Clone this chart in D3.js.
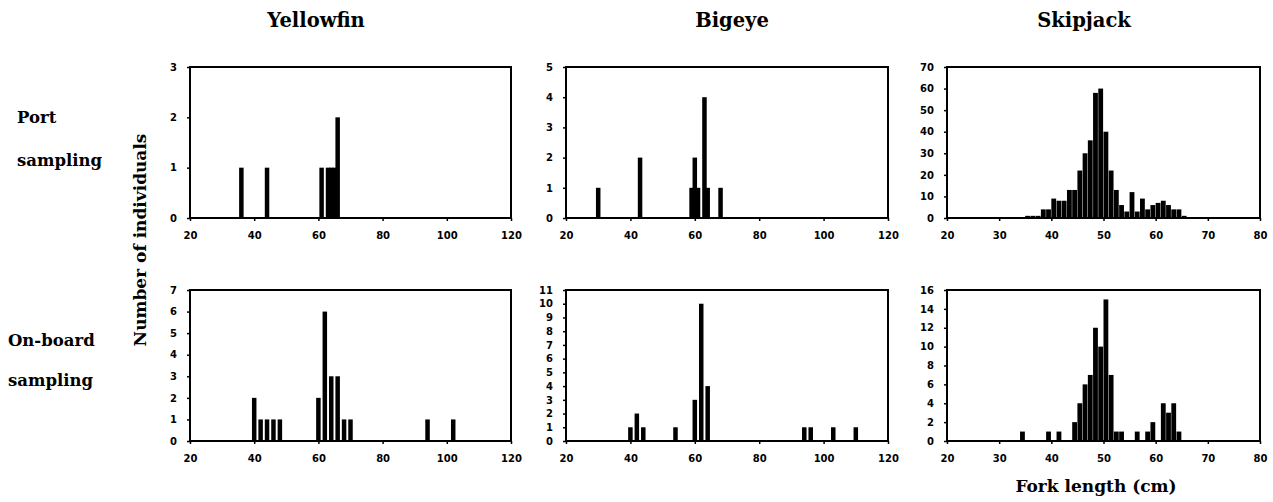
<!DOCTYPE html>
<html>
<head>
<meta charset="utf-8">
<script src="https://cdnjs.cloudflare.com/ajax/libs/d3/7.8.5/d3.min.js"></script>
<style>
	body { margin: 0; background: #fff; }
	.tick text { font-family: "DejaVu Sans", sans-serif; font-weight: bold; font-size: 10px; fill: #000; }
	.tick line { stroke: #000; stroke-width: 1.5; }
	.label { font-family: "DejaVu Serif", serif; font-weight: bold; fill: #000; }
</style>
</head>
<body>
<div id="main-view"></div>
<script>
var columnTitles = ["Yellowfin", "Bigeye", "Skipjack"];
var rowTitles = [["Port", "sampling"], ["On-board", "sampling"]];
var yTitle = "Number of individuals";
var xTitle = "Fork length (cm)";

// fork length (cm) and number of fish, one pair of arrays per panel
var yellowfinPortLengths = [36, 44, 61, 63, 64, 65, 66];
var yellowfinPortCounts = [1, 1, 1, 1, 1, 1, 2];
var bigeyePortLengths = [30, 43, 59, 60, 61, 63, 64, 68];
var bigeyePortCounts = [1, 2, 1, 2, 1, 4, 1, 1];
var skipjackPortLengths = [35, 36, 37, 38, 39, 40, 41, 42, 43, 44, 45, 46, 47, 48, 49, 50, 51, 52, 53, 54, 55, 56, 57, 58, 59, 60, 61, 62, 63, 64, 65];
var skipjackPortCounts = [1, 1, 1, 4, 4, 9, 8, 8, 13, 13, 22, 30, 36, 58, 60, 40, 22, 13, 6, 3, 12, 3, 9, 4, 6, 7, 8, 6, 4, 4, 1];

var yellowfinBoardLengths = [40, 42, 44, 46, 48, 60, 62, 64, 66, 68, 70, 94, 102];
var yellowfinBoardCounts = [2, 1, 1, 1, 1, 2, 6, 3, 3, 1, 1, 1, 1];
var bigeyeBoardLengths = [40, 42, 44, 54, 60, 62, 64, 94, 96, 103, 110];
var bigeyeBoardCounts = [1, 2, 1, 1, 3, 10, 4, 1, 1, 1, 1];
var skipjackBoardLengths = [34, 39, 41, 44, 45, 46, 47, 48, 49, 50, 51, 52, 53, 56, 58, 59, 61, 62, 63, 64];
var skipjackBoardCounts = [1, 1, 1, 2, 4, 6, 7, 12, 10, 15, 7, 1, 1, 1, 1, 2, 4, 3, 4, 1];

var xTicksWide = [20, 40, 60, 80, 100, 120];
var xTicksSkipjack = [20, 30, 40, 50, 60, 70, 80];
var yTicksYellowfinPort = [0, 1, 2, 3];
var yTicksBigeyePort = [0, 1, 2, 3, 4, 5];
var yTicksSkipjackPort = [0, 10, 20, 30, 40, 50, 60, 70];
var yTicksYellowfinBoard = [0, 1, 2, 3, 4, 5, 6, 7];
var yTicksBigeyeBoard = [0, 1, 2, 3, 4, 5, 6, 7, 8, 9, 10, 11];
var yTicksSkipjackBoard = [0, 2, 4, 6, 8, 10, 12, 14, 16];

function makePanel(row, col, lengths, counts, xTicks, yTicks, binned) {
	return {
		row: row,
		col: col,
		values: lengths.map(function(l, i) { return { x: l, n: counts[i] } }),
		xTicks: xTicks,
		yTicks: yTicks,
		binned: binned
	}
}

var panels = [
	makePanel(0, 0, yellowfinPortLengths, yellowfinPortCounts, xTicksWide, yTicksYellowfinPort, false),
	makePanel(0, 1, bigeyePortLengths, bigeyePortCounts, xTicksWide, yTicksBigeyePort, false),
	makePanel(0, 2, skipjackPortLengths, skipjackPortCounts, xTicksSkipjack, yTicksSkipjackPort, true),
	makePanel(1, 0, yellowfinBoardLengths, yellowfinBoardCounts, xTicksWide, yTicksYellowfinBoard, false),
	makePanel(1, 1, bigeyeBoardLengths, bigeyeBoardCounts, xTicksWide, yTicksBigeyeBoard, false),
	makePanel(1, 2, skipjackBoardLengths, skipjackBoardCounts, xTicksSkipjack, yTicksSkipjackBoard, true)
];

var colLeft = [190, 566, 947];
var colRight = [511, 888, 1260];
var rowTop = [67, 290];
var rowBottom = [218, 441];

var svg = d3.select("#main-view").append("svg")
	.attr("width", 1273)
	.attr("height", 502)
	.style("background", "#fff");

panels.forEach(drawPanel);

function drawPanel(p) {
	var x0 = colLeft[p.col], x1 = colRight[p.col];
	var y0 = rowTop[p.row], y1 = rowBottom[p.row];

	var x = d3.scaleLinear()
		.domain(d3.extent(p.xTicks))
		.range([0, x1 - x0]);
	var y = d3.scaleLinear()
		.domain([0, d3.max(p.yTicks)])
		.range([y1 - y0, 0]);

	var g = svg.append("g")
		.attr("transform", "translate(" + x0 + "," + y0 + ")");

	g.selectAll("rect.bar")
		.data(p.values)
		.enter()
		.append("rect")
		.attr("class", "bar")
		.attr("x", function(d) {
			return p.binned ? x(d.x) : x(d.x - 0.7)
		})
		.attr("width", function(d) {
			return p.binned ? x(d.x + 1) - x(d.x) - 0.4 : x(d.x + 0.7) - x(d.x - 0.7)
		})
		.attr("y", function(d) { return y(d.n) })
		.attr("height", function(d) { return y(0) - y(d.n) })
		.attr("fill", "#000");

	var ax = g.append("g")
		.attr("transform", "translate(0," + (y1 - y0) + ")")
		.call(d3.axisBottom(x).tickValues(p.xTicks).tickFormat(d3.format("d")).tickSize(3).tickPadding(11));
	ax.select(".domain").remove();

	var ay = g.append("g")
		.call(d3.axisLeft(y).tickValues(p.yTicks).tickFormat(d3.format("d")).tickSize(3).tickPadding(10));
	ay.select(".domain").remove();

	g.append("rect")
		.attr("x", 0)
		.attr("y", 0)
		.attr("width", x1 - x0)
		.attr("height", y1 - y0)
		.attr("fill", "none")
		.attr("stroke", "#000")
		.attr("stroke-width", 2);
}

var titleX = [316, 732, 1084];
svg.selectAll("text.col-title")
	.data(columnTitles)
	.enter()
	.append("text")
	.attr("class", "label col-title")
	.attr("x", function(d, i) { return titleX[i] })
	.attr("y", 27)
	.attr("text-anchor", "middle")
	.style("font-size", "19.5px")
	.text(function(d) { return d });

var rowLabelX = [17, 8];
var rowLabelY = [[123, 166], [346, 386]];
rowTitles.forEach(function(lines, r) {
	lines.forEach(function(t, k) {
		svg.append("text")
			.attr("class", "label")
			.attr("x", rowLabelX[r])
			.attr("y", rowLabelY[r][k])
			.style("font-size", "16.5px")
			.text(t);
	})
})

svg.append("text")
	.attr("class", "label")
	.attr("transform", "translate(146,240) rotate(-90)")
	.attr("text-anchor", "middle")
	.style("font-size", "17px")
	.text(yTitle);

svg.append("text")
	.attr("class", "label")
	.attr("x", 1096)
	.attr("y", 492)
	.attr("text-anchor", "middle")
	.style("font-size", "17px")
	.text(xTitle);
</script>
</body>
</html>
